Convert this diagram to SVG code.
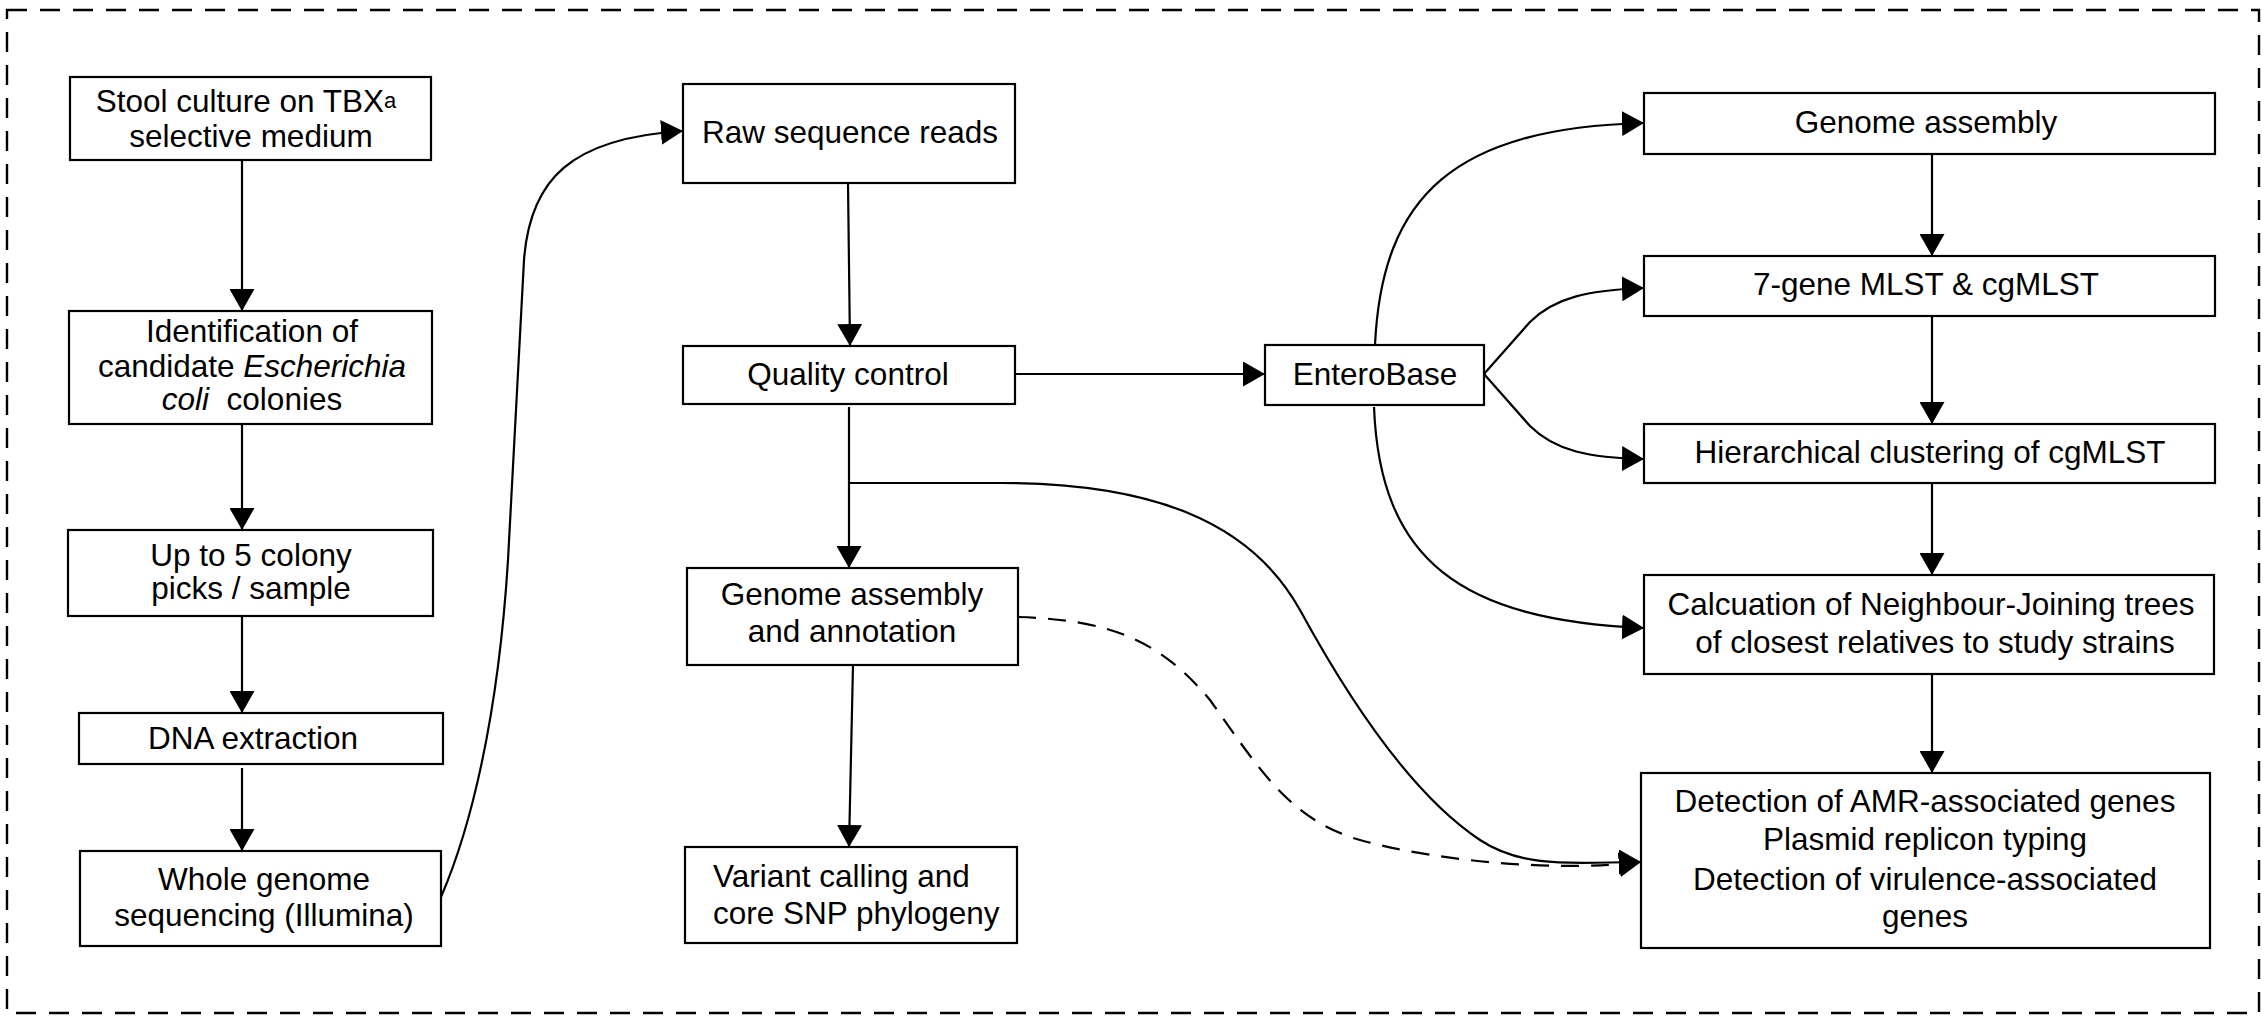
<svg xmlns="http://www.w3.org/2000/svg" width="2262" height="1017" viewBox="0 0 2262 1017">
<style>
  .box { fill: #fff; stroke: #000; stroke-width: 2.2; }
  .t { font-family: "Liberation Sans", Arial, Helvetica, sans-serif; font-size: 31.5px; fill: #000; }
  .c { text-anchor: middle; }
  .ln { fill: none; stroke: #000; stroke-width: 2.2; marker-end: url(#ah); }
  .dash { stroke-dasharray: 18 12; }
</style>
<defs>
  <marker id="ah" viewBox="0 0 22 25" refX="22" refY="12.5" markerWidth="22" markerHeight="25" markerUnits="userSpaceOnUse" orient="auto">
    <path d="M0,0 L22,12.5 L0,25 z" fill="#000"/>
  </marker>
</defs>
<rect x="0" y="0" width="2262" height="1017" fill="#fff"/>
<rect id="frame" x="7" y="10" width="2252" height="1003" fill="none" stroke="#000" stroke-width="2.4" stroke-dasharray="20 13"/>

<g id="connectors">
  <path class="ln" d="M242,160 L242,311"/>
  <path class="ln" d="M242,424 L242,530"/>
  <path class="ln" d="M242,616 L242,713"/>
  <path class="ln" d="M242,768 L242,851"/>
  <path class="ln" d="M441,897 C470,830 498,720 508,560 L524,260 C530,180 570,138 683,131"/>
  <path class="ln" d="M848,183 L850,346"/>
  <path class="ln" d="M849,407 L849,568"/>
  <path class="ln" d="M853,665 L849,847"/>
  <path class="ln" d="M1015,374 L1265,374"/>
  <path class="ln" d="M849,483 L1000,483 C1150,483 1250,520 1300,610 C1360,720 1420,800 1480,840 C1525,870 1580,862 1641,862"/>
  <path class="ln dash" d="M1018,617 C1110,620 1160,640 1210,700 C1260,770 1290,820 1360,840 C1440,862 1560,872 1641,862"/>
  <path class="ln" d="M1375,345 C1382,195 1455,128 1644,123"/>
  <path class="ln" d="M1484,374 L1530,322 C1555,297 1590,290 1644,288"/>
  <path class="ln" d="M1484,374 L1530,426 C1555,451 1590,458 1644,459"/>
  <path class="ln" d="M1374,407 C1380,560 1460,620 1644,628"/>
  <path class="ln" d="M1932,154 L1932,256"/>
  <path class="ln" d="M1932,316 L1932,424"/>
  <path class="ln" d="M1932,483 L1932,575"/>
  <path class="ln" d="M1932,674 L1932,773"/>
</g>

<g id="stool">
  <rect class="box" x="70" y="77" width="361" height="83"/>
  <text class="t c" x="246" y="112">Stool culture on TBX<tspan font-size="22" dy="-4">a</tspan></text>
  <text class="t c" x="251" y="147">selective medium</text>
</g>
<g id="ident">
  <rect class="box" x="69" y="311" width="363" height="113"/>
  <text class="t c" x="252" y="342">Identification of</text>
  <text class="t c" x="252" y="377">candidate <tspan font-style="italic">Escherichia</tspan></text>
  <text class="t c" x="252" y="410" xml:space="preserve"><tspan font-style="italic">coli</tspan>  colonies</text>
</g>
<g id="picks">
  <rect class="box" x="68" y="530" width="365" height="86"/>
  <text class="t c" x="251" y="566">Up to 5 colony</text>
  <text class="t c" x="251" y="599">picks / sample</text>
</g>
<g id="dna">
  <rect class="box" x="79" y="713" width="364" height="51"/>
  <text class="t c" x="253" y="749">DNA extraction</text>
</g>
<g id="wgs">
  <rect class="box" x="80" y="851" width="361" height="95"/>
  <text class="t c" x="264" y="890">Whole genome</text>
  <text class="t c" x="264" y="926">sequencing (Illumina)</text>
</g>

<g id="raw">
  <rect class="box" x="683" y="84" width="332" height="99"/>
  <text class="t c" x="850" y="143">Raw sequence reads</text>
</g>
<g id="qc">
  <rect class="box" x="683" y="346" width="332" height="58"/>
  <text class="t c" x="848" y="385">Quality control</text>
</g>
<g id="gaa">
  <rect class="box" x="687" y="568" width="331" height="97"/>
  <text class="t c" x="852" y="605">Genome assembly</text>
  <text class="t c" x="852" y="642">and annotation</text>
</g>
<g id="variant">
  <rect class="box" x="685" y="847" width="332" height="96"/>
  <text class="t" x="713" y="887">Variant calling and</text>
  <text class="t" x="713" y="924">core SNP phylogeny</text>
</g>

<g id="enterobase">
  <rect class="box" x="1265" y="345" width="219" height="60"/>
  <text class="t c" x="1375" y="385">EnteroBase</text>
</g>
<g id="assembly">
  <rect class="box" x="1644" y="93" width="571" height="61"/>
  <text class="t c" x="1926" y="133">Genome assembly</text>
</g>
<g id="mlst">
  <rect class="box" x="1644" y="256" width="571" height="60"/>
  <text class="t c" x="1926" y="295">7-gene MLST &amp; cgMLST</text>
</g>
<g id="hier">
  <rect class="box" x="1644" y="424" width="571" height="59"/>
  <text class="t c" x="1930" y="463">Hierarchical clustering of cgMLST</text>
</g>
<g id="nj">
  <rect class="box" x="1644" y="575" width="570" height="99"/>
  <text class="t c" x="1931" y="615">Calcuation of Neighbour-Joining trees</text>
  <text class="t c" x="1935" y="653">of closest relatives to study strains</text>
</g>
<g id="amr">
  <rect class="box" x="1641" y="773" width="569" height="175"/>
  <text class="t c" x="1925" y="812">Detection of AMR-associated genes</text>
  <text class="t c" x="1925" y="850">Plasmid replicon typing</text>
  <text class="t c" x="1925" y="890">Detection of virulence-associated</text>
  <text class="t c" x="1925" y="927">genes</text>
</g>
</svg>
